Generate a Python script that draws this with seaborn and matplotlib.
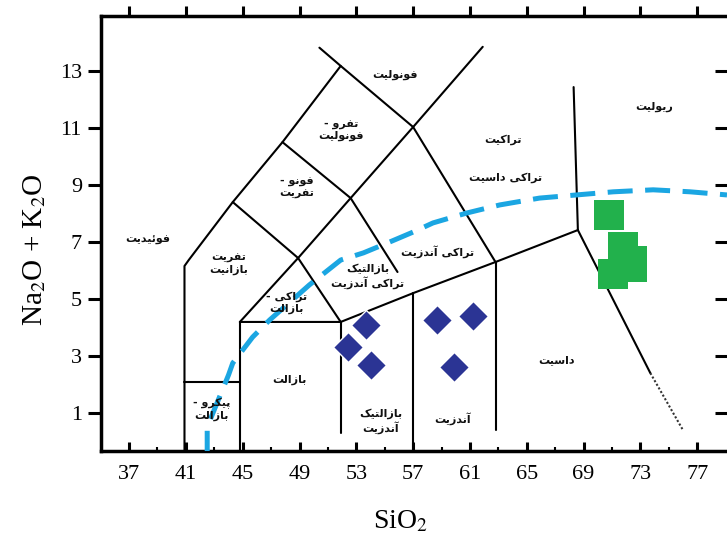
import matplotlib
matplotlib.use('Agg')
import numpy as np
import pandas as pd
import matplotlib.pyplot as plt
import seaborn as sns

# samples (SiO2, Na2O+K2O)
diamond_sio2 = [53.7, 52.4, 54.0, 58.7, 61.2, 59.9]
diamond_alk = [4.08, 3.31, 2.68, 4.26, 4.40, 2.61]
square_sio2 = [70.8, 71.8, 72.4, 72.4, 71.1]
square_alk = [7.95, 6.82, 6.34, 6.12, 5.88]

# alkaline / subalkaline dividing curve
curve_sio2 = [42.5, 42.5, 44.0, 44.3, 45.7, 46.9, 49.7, 51.9, 53.5, 55.2, 57.0,
              58.4, 60.8, 63.1, 65.9, 68.5, 71.1, 73.9, 76.5, 79.1]
curve_alk = [-0.5, 0.51, 2.33, 2.75, 3.66, 4.26, 5.49, 6.36, 6.61, 6.96, 7.34,
             7.66, 8.01, 8.29, 8.53, 8.64, 8.75, 8.82, 8.75, 8.64]

# field boundaries of the TAS diagram (as drawn in the figure)
foidite_x = [40.9, 40.9, 41.2, 44.3, 47.8, 51.9]
foidite_y = [-0.3, 6.15, 6.36, 8.39, 10.49, 13.16]
phonolite_x = [50.4, 51.9, 57.0]
phonolite_y = [13.80, 13.16, 11.02]
trachy_x = [44.8, 48.9, 52.6, 57.0, 61.9]
trachy_y = [4.19, 6.43, 8.53, 11.02, 13.83]
tephrite_x = [44.3, 48.9]
tephrite_y = [8.39, 6.43]
phonotephrite_x = [47.8, 52.6]
phonotephrite_y = [10.49, 8.53]
trachybasalt_x = [48.9, 51.9]
trachybasalt_y = [6.43, 4.19]
bta_x = [52.6, 55.9]
bta_y = [8.53, 5.94]
trachyandesite_x = [57.0, 62.8]
trachyandesite_y = [11.02, 6.29]
subalk_x = [44.8, 51.9, 57.0, 62.8, 68.6]
subalk_y = [4.19, 4.19, 5.20, 6.29, 7.41]
picro_x = [40.9, 44.8]
picro_y = [2.09, 2.09]
basalt_l_x = [44.8, 44.8]
basalt_l_y = [-0.3, 4.19]
basalt_r_x = [51.9, 51.9]
basalt_r_y = [0.3, 4.19]
andesite_l_x = [57.0, 57.0]
andesite_l_y = [-0.3, 5.20]
andesite_r_x = [62.8, 62.8]
andesite_r_y = [0.4, 6.29]
rhyolite_x = [68.3, 68.6]
rhyolite_y = [12.42, 7.41]
dacite_x = [68.6, 73.7]
dacite_y = [7.41, 2.40]
dacite_dot_x = [73.7, 76.0]
dacite_dot_y = [2.40, 0.4]

# field names
field_names = ['فونولیت', 'تفرو -\nفونولیت', 'فونو -\nتفریت', 'فوئیدیت',
               'تفریت\nبازانیت', 'تراکی -\nبازالت', 'پیکرو -\nبازالت', 'بازالت',
               'بازالتیک\nآندزیت', 'آندزیت', 'داسیت', 'بازالتیک\nتراکی آندزیت',
               'تراکی آندزیت', 'تراکیت', 'تراکی داسیت', 'ریولیت']
name_x = [55.7, 51.9, 48.8, 38.3, 44.0, 48.1, 42.8, 48.3, 54.7, 59.8, 67.1,
          53.8, 58.7, 63.3, 63.5, 74.0]
name_y = [12.84, 10.9, 8.88, 7.06, 6.22, 4.85, 1.14, 2.16, 0.72, 0.79, 2.86,
          5.8, 6.64, 10.56, 9.23, 11.72]

x_ticks = list(range(37, 78, 4))
y_ticks = list(range(1, 14, 2))

# simple arabic shaping: (isolated, final, initial, medial)
FORMS = {
    '\u0627': ('\ufe8d', '\ufe8e', None, None),
    '\u0622': ('\ufe81', '\ufe82', None, None),
    '\u0628': ('\ufe8f', '\ufe90', '\ufe91', '\ufe92'),
    '\u067e': ('\ufb56', '\ufb57', '\ufb58', '\ufb59'),
    '\u062a': ('\ufe95', '\ufe96', '\ufe97', '\ufe98'),
    '\u062f': ('\ufea9', '\ufeaa', None, None),
    '\u0631': ('\ufead', '\ufeae', None, None),
    '\u0632': ('\ufeaf', '\ufeb0', None, None),
    '\u0633': ('\ufeb1', '\ufeb2', '\ufeb3', '\ufeb4'),
    '\u0641': ('\ufed1', '\ufed2', '\ufed3', '\ufed4'),
    '\u06a9': ('\ufb8e', '\ufb8f', '\ufb90', '\ufb91'),
    '\u0643': ('\ufed9', '\ufeda', '\ufedb', '\ufedc'),
    '\u0644': ('\ufedd', '\ufede', '\ufedf', '\ufee0'),
    '\u0646': ('\ufee5', '\ufee6', '\ufee7', '\ufee8'),
    '\u0648': ('\ufeed', '\ufeee', None, None),
    '\u06cc': ('\ufbfc', '\ufbfd', '\ufbfe', '\ufbff'),
    '\u064a': ('\ufef1', '\ufef2', '\ufef3', '\ufef4'),
    '\u0626': ('\ufe89', '\ufe8a', '\ufe8b', '\ufe8c'),
}


def shape_line(line):
    line = line.replace('\u0627\u0653', '\u0622')
    out = []
    for i, ch in enumerate(line):
        if ch not in FORMS:
            out.append(ch)
            continue
        prev = line[i - 1] if i > 0 else ''
        nxt = line[i + 1] if i + 1 < len(line) else ''
        iso, fin, ini, med = FORMS[ch]
        join_prev = prev in FORMS and FORMS[prev][2] is not None
        join_next = ini is not None and nxt in FORMS
        if join_prev and join_next:
            out.append(med)
        elif join_prev:
            out.append(fin)
        elif join_next:
            out.append(ini)
        else:
            out.append(iso)
    return ''.join(reversed(out))


def shape(text):
    return '\n'.join(shape_line(l) for l in text.split('\n'))


sns.set_style('ticks')
plt.rcParams['font.family'] = ['Liberation Serif', 'DejaVu Serif']
plt.rcParams['mathtext.fontset'] = 'stix'
for key in ['text.color', 'axes.labelcolor', 'xtick.color', 'ytick.color', 'axes.edgecolor']:
    plt.rcParams[key] = 'black'

fig = plt.figure(figsize=(7.27, 5.42), dpi=100)
ax = fig.add_axes([0.1385, 0.168, 0.8615, 0.803])

lines = [(foidite_x, foidite_y), (phonolite_x, phonolite_y), (trachy_x, trachy_y),
         (tephrite_x, tephrite_y), (phonotephrite_x, phonotephrite_y),
         (trachybasalt_x, trachybasalt_y), (bta_x, bta_y),
         (trachyandesite_x, trachyandesite_y), (subalk_x, subalk_y),
         (picro_x, picro_y), (basalt_l_x, basalt_l_y), (basalt_r_x, basalt_r_y),
         (andesite_l_x, andesite_l_y), (andesite_r_x, andesite_r_y),
         (rhyolite_x, rhyolite_y), (dacite_x, dacite_y)]
for bx, by in lines:
    ax.plot(bx, by, color='black', lw=1.5, zorder=2)
ax.plot(dacite_dot_x, dacite_dot_y, color='#333333', lw=1.5, linestyle=(0, (1, 1)), zorder=2)

sns.lineplot(x=curve_sio2, y=curve_alk, sort=False, estimator=None, ax=ax,
             color='#1ba6e2', lw=3.6, linestyle=(0, (5, 2.5)), zorder=3)

df_d = pd.DataFrame({'SiO2': diamond_sio2, 'alk': diamond_alk})
df_s = pd.DataFrame({'SiO2': square_sio2, 'alk': square_alk})
sns.scatterplot(data=df_d, x='SiO2', y='alk', marker='D', s=234, color='#2b3494',
                edgecolor='white', linewidth=1, ax=ax, zorder=5)
sns.scatterplot(data=df_s, x='SiO2', y='alk', marker='s', s=436, color='#22b14c',
                linewidth=0, ax=ax, zorder=5)

for txt, lx, ly in zip(field_names, name_x, name_y):
    ax.text(lx, ly, shape(txt), ha='center', va='center', fontsize=8,
            fontweight='bold', family=['DejaVu Sans'], linespacing=1.2,
            multialignment='center', color='#111111', zorder=4)

ax.set_xlim(35.0, 79.1)
ax.set_ylim(-0.33, 14.92)
ax.set_xticks(x_ticks)
ax.set_xticks([t + 2 for t in x_ticks[:-1]], minor=True)
ax.set_yticks(y_ticks)
ax.tick_params(axis='x', which='major', direction='in', length=6.5, width=2.2,
               labelsize=16, pad=10, bottom=True, top=False)
ax.tick_params(axis='x', which='minor', direction='in', length=3, width=1.5,
               bottom=True, top=False)
ax.tick_params(axis='y', direction='out', length=9.5, width=2.2, labelsize=16,
               pad=4, left=True, right=False)
for side in ['left', 'top', 'bottom']:
    ax.spines[side].set_linewidth(2.5)
    ax.spines[side].set_color('black')
ax.spines['right'].set_visible(False)

axt = ax.twiny()
axt.set_xlim(ax.get_xlim())
axt.set_xticks(x_ticks)
axt.tick_params(axis='x', direction='out', length=7.5, width=2.2, top=True,
                labeltop=False, bottom=False, color='black')
axr = ax.twinx()
axr.set_ylim(ax.get_ylim())
axr.set_yticks(y_ticks)
axr.tick_params(axis='y', direction='in', length=9, width=2.2, right=True,
                labelright=False, left=False, color='black')
for a in (axt, axr):
    for s in a.spines.values():
        s.set_visible(False)

ax.set_xlabel('SiO$_2$', fontsize=20, va='center')
ax.xaxis.set_label_coords(0.478, -0.163)
ax.set_ylabel('Na$_2$O + K$_2$O', fontsize=21, va='center')
ax.yaxis.set_label_coords(-0.105, 0.462)

fig.savefig('out.png', dpi=100)
